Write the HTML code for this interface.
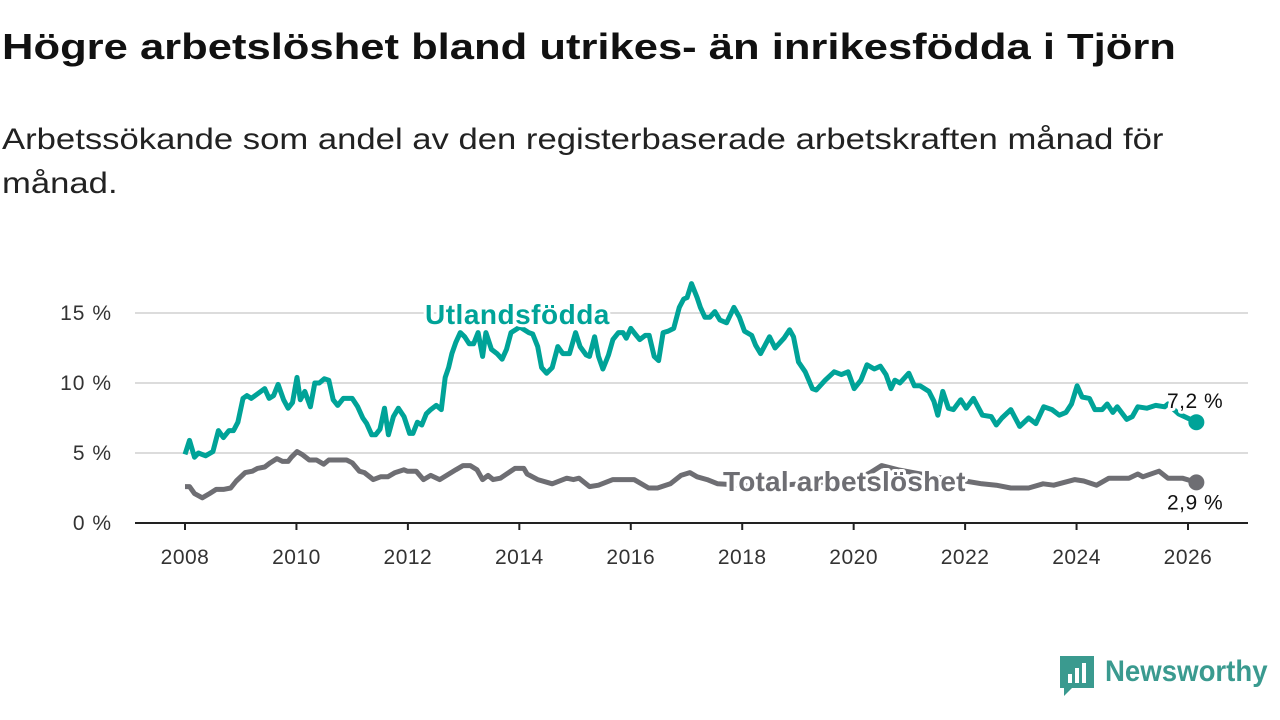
<!DOCTYPE html>
<html><head><meta charset="utf-8">
<style>
body{margin:0;width:1280px;height:720px;background:#fff;font-family:"Liberation Sans",sans-serif;overflow:hidden;position:relative}
h1{position:absolute;left:2px;top:26px;margin:0;font-size:36px;font-weight:bold;color:#111;white-space:nowrap;transform:scaleX(1.21);transform-origin:0 0}
p.sub{position:absolute;left:2px;top:118px;margin:0;font-size:30px;line-height:44px;color:#222;white-space:nowrap;transform:scaleX(1.155);transform-origin:0 0}
svg{position:absolute;left:0;top:0}
</style></head><body>
<h1>Högre arbetslöshet bland utrikes- än inrikesfödda i Tjörn</h1>
<p class="sub">Arbetssökande som andel av den registerbaserade arbetskraften månad för<br>månad.</p>
<svg id="chart" width="1280" height="720"></svg>
<div style="position:absolute;left:1060px;top:656px;width:220px;height:42px">
<svg width="34" height="40" style="position:absolute;left:0;top:0"><path d="M0 0H34V32H12L4 40V32H0Z" fill="#3a9a8f"/><rect x="8" y="18" width="4" height="9" fill="#fff"/><rect x="15" y="12" width="4" height="15" fill="#fff"/><rect x="22" y="7" width="4" height="20" fill="#fff"/></svg>
<div style="position:absolute;left:45px;top:-1px;font-size:30px;color:#3a9a8f;font-weight:bold;transform:scaleX(0.92);transform-origin:0 0">Newsworthy</div>
</div>
<script>
const yTicks=[0,5,10,15];
const yTickLabels=["0 %","5 %","10 %","15 %"];
const xTicks=[2008,2010,2012,2014,2016,2018,2020,2022,2024,2026];
const utlYears=[2008.0,2008.08,2008.17,2008.24,2008.37,2008.5,2008.6,2008.69,2008.79,2008.87,2008.95,2009.04,2009.11,2009.19,2009.43,2009.51,2009.59,2009.67,2009.77,2009.85,2009.93,2010.01,2010.07,2010.15,2010.25,2010.33,2010.41,2010.5,2010.58,2010.66,2010.74,2010.84,2011.0,2011.1,2011.19,2011.26,2011.35,2011.42,2011.5,2011.58,2011.65,2011.74,2011.83,2011.93,2012.03,2012.09,2012.17,2012.25,2012.33,2012.41,2012.51,2012.6,2012.67,2012.73,2012.79,2012.86,2012.94,2013.02,2013.1,2013.18,2013.26,2013.34,2013.4,2013.5,2013.6,2013.69,2013.77,2013.85,2014.01,2014.17,2014.24,2014.33,2014.4,2014.49,2014.59,2014.69,2014.78,2014.9,2015.01,2015.09,2015.2,2015.26,2015.35,2015.42,2015.5,2015.6,2015.68,2015.78,2015.86,2015.92,2016.0,2016.1,2016.16,2016.26,2016.33,2016.42,2016.5,2016.58,2016.67,2016.77,2016.87,2016.95,2017.01,2017.09,2017.19,2017.25,2017.33,2017.42,2017.51,2017.6,2017.72,2017.85,2017.95,2018.04,2018.17,2018.24,2018.33,2018.49,2018.59,2018.75,2018.85,2018.92,2019.01,2019.13,2019.26,2019.33,2019.49,2019.65,2019.78,2019.9,2020.01,2020.13,2020.24,2020.37,2020.48,2020.58,2020.67,2020.74,2020.83,2020.99,2021.09,2021.19,2021.35,2021.44,2021.51,2021.6,2021.7,2021.79,2021.92,2022.02,2022.15,2022.31,2022.47,2022.56,2022.66,2022.82,2022.98,2023.14,2023.27,2023.41,2023.56,2023.69,2023.81,2023.91,2024.01,2024.1,2024.23,2024.33,2024.46,2024.55,2024.65,2024.73,2024.9,2025.0,2025.1,2025.26,2025.42,2025.58,2025.64,2025.83,2026.15];
const utlValues=[4.9,5.9,4.7,5.0,4.8,5.1,6.6,6.1,6.6,6.6,7.2,8.9,9.1,8.9,9.6,8.9,9.1,9.9,8.8,8.2,8.6,10.4,8.8,9.4,8.3,10.0,10.0,10.3,10.2,8.8,8.4,8.9,8.9,8.3,7.5,7.1,6.3,6.3,6.7,8.2,6.3,7.6,8.2,7.6,6.4,6.4,7.2,7.0,7.8,8.1,8.4,8.1,10.4,11.1,12.1,12.9,13.6,13.3,12.8,12.8,13.6,11.9,13.6,12.4,12.1,11.7,12.4,13.6,14.0,13.6,13.5,12.6,11.1,10.7,11.1,12.6,12.1,12.1,13.6,12.6,12.0,11.9,13.3,11.9,11.0,12.0,13.1,13.6,13.6,13.2,13.9,13.4,13.1,13.4,13.4,11.9,11.6,13.6,13.7,13.9,15.4,16.0,16.1,17.1,16.1,15.4,14.7,14.7,15.1,14.5,14.3,15.4,14.7,13.7,13.4,12.7,12.1,13.3,12.5,13.2,13.8,13.3,11.5,10.8,9.6,9.5,10.2,10.8,10.6,10.8,9.6,10.2,11.3,11.0,11.2,10.6,9.6,10.2,10.0,10.7,9.8,9.8,9.4,8.7,7.7,9.4,8.2,8.1,8.8,8.2,8.9,7.7,7.6,7.0,7.5,8.1,6.9,7.5,7.1,8.3,8.1,7.7,7.9,8.5,9.8,9.0,8.9,8.1,8.1,8.5,7.9,8.3,7.4,7.6,8.3,8.2,8.4,8.3,8.5,7.8,7.2];
const totYears=[2008.0,2008.08,2008.17,2008.31,2008.44,2008.56,2008.69,2008.82,2008.92,2009.08,2009.21,2009.3,2009.43,2009.53,2009.65,2009.75,2009.85,2009.91,2010.01,2010.1,2010.23,2010.36,2010.49,2010.58,2010.68,2010.9,2011.0,2011.13,2011.22,2011.38,2011.51,2011.64,2011.77,2011.93,2011.99,2012.15,2012.28,2012.41,2012.57,2012.86,2012.99,2013.12,2013.24,2013.34,2013.44,2013.53,2013.66,2013.92,2014.08,2014.14,2014.33,2014.59,2014.85,2014.97,2015.07,2015.26,2015.42,2015.68,2016.06,2016.32,2016.48,2016.71,2016.9,2017.06,2017.19,2017.37,2017.56,2018.0,2018.5,2019.0,2019.5,2020.0,2020.3,2020.5,2020.8,2021.2,2021.6,2022.0,2022.3,2022.56,2022.82,2023.14,2023.4,2023.59,2023.97,2024.13,2024.36,2024.58,2024.94,2025.1,2025.19,2025.48,2025.64,2025.9,2026.15];
const totValues=[2.6,2.6,2.1,1.8,2.1,2.4,2.4,2.5,3.0,3.6,3.7,3.9,4.0,4.3,4.6,4.4,4.4,4.7,5.1,4.9,4.5,4.5,4.2,4.5,4.5,4.5,4.3,3.7,3.6,3.1,3.3,3.3,3.6,3.8,3.7,3.7,3.1,3.4,3.1,3.8,4.1,4.1,3.8,3.1,3.4,3.1,3.2,3.9,3.9,3.5,3.1,2.8,3.2,3.1,3.2,2.6,2.7,3.1,3.1,2.5,2.5,2.8,3.4,3.6,3.3,3.1,2.8,2.7,2.6,2.8,2.9,3.0,3.6,4.1,3.8,3.5,3.2,3.0,2.8,2.7,2.5,2.5,2.8,2.7,3.1,3.0,2.7,3.2,3.2,3.5,3.3,3.7,3.2,3.2,2.9];

const NS='http://www.w3.org/2000/svg';
const svg=document.getElementById('chart');
const X0=185,X1=1188,Y0=523,PXPCT=14;
const xs=y=>X0+(y-2008)*(X1-X0)/18;
const ys=v=>Y0-v*PXPCT;
function mk(tag,attrs,parent){const e=document.createElementNS(NS,tag);for(const k in attrs)e.setAttribute(k,attrs[k]);(parent||svg).appendChild(e);return e;}
yTicks.forEach((t,i)=>{
  if(t>0){const g=mk('line',{x1:135,x2:1248,y1:ys(t),y2:ys(t),stroke:'#dcdcdc','stroke-width':2});
  
  }
  const tx=mk('text',{x:112,y:ys(t)+7,'text-anchor':'end','font-size':21,fill:'#333','letter-spacing':1});
  tx.textContent=yTickLabels[i];
  
  
});
const ax=mk('line',{x1:135,x2:1248,y1:Y0,y2:Y0,stroke:'#222','stroke-width':2});


xTicks.forEach(t=>{
  const tk=mk('line',{x1:xs(t),x2:xs(t),y1:Y0,y2:Y0+7,stroke:'#222','stroke-width':2});
  
  
  const tx=mk('text',{x:xs(t),y:564,'text-anchor':'middle','font-size':21,fill:'#333','letter-spacing':0.5});
  tx.textContent=t;
  
  
});
function line(yrs,vals,color,name){
  const d=yrs.map((y,i)=>(i?'L':'M')+xs(y).toFixed(1)+' '+ys(vals[i]).toFixed(1)).join('');
  const p=mk('path',{d:d,fill:'none',stroke:color,'stroke-width':5,'stroke-linejoin':'round'});
  
  
  const n=yrs.length-1;
  const c=mk('circle',{cx:xs(yrs[n]),cy:ys(vals[n]),r:8,fill:color});
  
  
}
line(totYears,totValues,'#6e6e73','total-line');
line(utlYears,utlValues,'#00a398','utlandsfodda-line');
function label(x,y,txt,color,size,bold,name,ls){
  const t=mk('text',{x:x,y:y,'font-size':size,'font-weight':bold?'bold':'normal',fill:color,stroke:'#fff','stroke-width':6,'paint-order':'stroke','stroke-linejoin':'round','letter-spacing':ls||0});
  t.textContent=txt;
  
  
}
label(425,324,'Utlandsfödda','#00a398',28,true,'utlandsfodda-label',0.5);
label(723,491,'Total arbetslöshet','#6e6e73',28,true,'total-label',0.2);
const uN=utlValues.length-1,tN=totValues.length-1;
label(1167,ys(utlValues[uN])-14,'7,2 %','#111',21,false,'utlandsfodda-value-label',0.5);
label(1167,ys(totValues[tN])+27,'2,9 %','#111',21,false,'total-value-label',0.5);
</script>
</body></html>
